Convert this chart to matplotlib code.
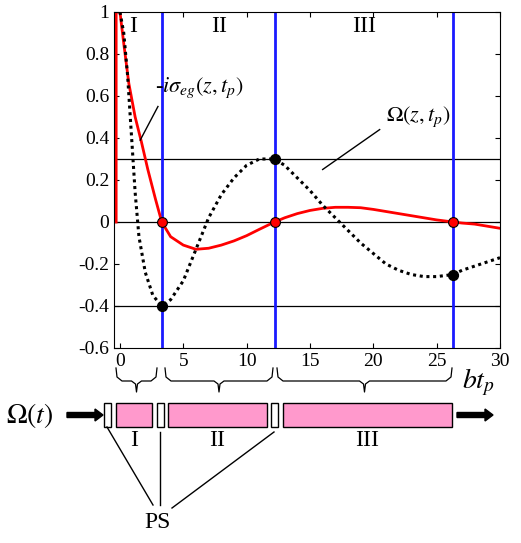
import matplotlib
matplotlib.use("Agg")
import matplotlib.pyplot as plt
from matplotlib.patches import Rectangle, FancyArrow

plt.rcParams['font.family'] = ['Liberation Serif', 'DejaVu Serif']
plt.rcParams['mathtext.fontset'] = 'stix'

# -i sigma_eg(z, t_p)
red_x = [-0.3, -0.3, 0.0, 0.3, 0.7, 1.2, 1.7, 2.2, 2.8, 3.3, 4, 5, 6, 7, 8, 9, 10, 11, 12.2, 13, 14, 15,
         16, 17, 18, 19, 20, 21, 22, 23, 24, 25, 26.3, 27, 28, 29, 30]
red_y = [0.0, 1.0, 1.0, 0.85, 0.66, 0.5, 0.38, 0.25, 0.11, 0.0, -0.07, -0.11, -0.13, -0.125, -0.11, -0.09,
         -0.065, -0.035, 0.0, 0.02, 0.04, 0.055, 0.065, 0.07, 0.07, 0.068, 0.06, 0.05, 0.04, 0.03, 0.02,
         0.01, 0.0, -0.005, -0.01, -0.02, -0.03]
# Omega(z, t_p)
blk_x = [0.0, 0.3, 0.6, 0.9, 1.2, 1.5, 2.0, 2.6, 3.3, 4, 5, 6, 7, 8, 9, 10, 11, 12.2, 13, 14, 15, 16, 17,
         18, 19, 20, 21, 22, 23, 24, 25, 26.3, 27, 28, 29, 30]
blk_y = [1.0, 0.9, 0.7, 0.42, 0.14, -0.07, -0.24, -0.35, -0.4, -0.37, -0.28, -0.13, 0.02, 0.13, 0.21,
         0.27, 0.3, 0.3, 0.27, 0.21, 0.15, 0.08, 0.02, -0.04, -0.1, -0.15, -0.2, -0.23, -0.25, -0.26,
         -0.26, -0.25, -0.23, -0.21, -0.19, -0.17]
boundaries = [3.3, 12.2, 26.3]
red_pts = [0.0, 0.0, 0.0]
blk_pts = [-0.4, 0.3, -0.25]
hlines = [0.3, 0.0, -0.4]
regions = ['I', 'II', 'III']
region_x = [1.0, 7.8, 19.3]

W, H = 521, 543
fig = plt.figure(figsize=(W / 100, H / 100), dpi=100)
ax = fig.add_axes([114 / W, 1 - 348 / H, 386 / W, 336 / H])
ax.set_xlim(-0.47, 30)
ax.set_ylim(-0.6, 1)
for h in hlines:
    ax.axhline(h, color='black', lw=0.9)
for b in boundaries:
    ax.axvline(b, color='#1a1aff', lw=2)
ax.plot(red_x, red_y, color='red', lw=2)
ax.plot(blk_x, blk_y, color='black', lw=2.2, ls=(0, (1, 1.2)))
ax.scatter(boundaries, blk_pts, s=50, color='black', zorder=5)
ax.scatter(boundaries, red_pts, s=50, color='red', edgecolor='black', lw=0.8, zorder=6)
for r, xr in zip(regions, region_x):
    ax.text(xr, 0.93, r, fontsize=17, ha='center', va='center')
ax.set_xticks([0, 5, 10, 15, 20, 25, 30])
ax.set_yticks([-0.6, -0.4, -0.2, 0, 0.2, 0.4, 0.6, 0.8, 1])
ax.set_yticklabels(['-0.6', '-0.4', '-0.2', '0', '0.2', '0.4', '0.6', '0.8', '1'])
ax.tick_params(direction='in', labelsize=14, top=True, right=True)
ax.text(2.8, 0.62, r'-$i\sigma_{eg}(z,t_p)$', fontsize=16)
ax.plot([1.6, 3.0], [0.39, 0.55], color='black', lw=1)
ax.text(21, 0.48, r'$\Omega(z,t_p)$', fontsize=16)
ax.plot([16.0, 20.5], [0.25, 0.44], color='black', lw=1)

# bottom schematic in pixel coords
ov = fig.add_axes([0, 0, 1, 1])
ov.set_xlim(0, W)
ov.set_ylim(H, 0)
ov.axis('off')
ov.text(478, 382, r'$bt_p$', fontsize=20, ha='center', va='center')
for x0, x1 in [(116, 157), (165, 273), (277, 452)]:
    m = (x0 + x1) / 2
    ov.plot([x0, x0 + 1, x0 + 6, m - 5, m - 1, m, m + 1, m + 5, x1 - 6, x1 - 1, x1],
            [368, 377, 381, 381, 384, 392, 384, 381, 381, 377, 368], color='black', lw=0.9)
ov.add_patch(FancyArrow(67, 415, 28, 0, width=5, head_width=12, head_length=8, color='black'))
ov.add_patch(FancyArrow(457, 415, 28, 0, width=5, head_width=12, head_length=8, color='black'))
ov.text(30, 415, r'$\Omega(t)$', fontsize=20, ha='center', va='center')
for x0, x1 in [(104, 111), (157, 164), (271, 278)]:
    ov.add_patch(Rectangle((x0, 403), x1 - x0, 24, fc='white', ec='black', lw=1))
for (x0, x1), r in zip([(116, 152), (168, 267), (283, 452)], regions):
    ov.add_patch(Rectangle((x0, 403), x1 - x0, 24, fc='#ff99cc', ec='black', lw=1))
    ov.text((x0 + x1) / 2, 441, r, fontsize=17, ha='center', va='center')
ov.plot([107, 153], [427, 505], color='black', lw=1)
ov.plot([160, 160], [432, 505], color='black', lw=1)
ov.plot([274, 172], [432, 508], color='black', lw=1)
ov.text(158, 522, 'PS', fontsize=17, ha='center', va='center')

fig.savefig('out.png', dpi=100)
